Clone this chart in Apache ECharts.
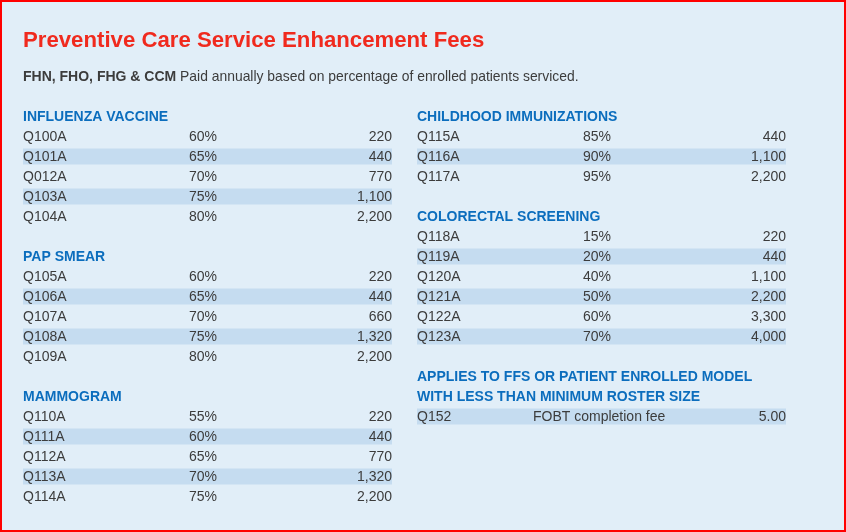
<!DOCTYPE html>
<html><head><meta charset="utf-8">
<script src="https://cdn.jsdelivr.net/npm/echarts@6/dist/echarts.min.js"></script>
<style>html,body{margin:0;padding:0;background:#e1eef8}#c{width:846px;height:532px}</style>
</head><body><div id="c"></div><script>
// ---- data ----
const titleText = 'Preventive Care Service Enhancement Fees';
const subtitleBold = 'FHN, FHO, FHG & CCM';
const subtitleRest = 'Paid annually based on percentage of enrolled patients serviced.';

const influenzaTitle = ['INFLUENZA VACCINE'];
const influenzaCodes = ['Q100A','Q101A','Q012A','Q103A','Q104A'];
const influenzaRates = ['60%','65%','70%','75%','80%'];
const influenzaFees = [220,440,770,1100,2200];

const papTitle = ['PAP SMEAR'];
const papCodes = ['Q105A','Q106A','Q107A','Q108A','Q109A'];
const papRates = ['60%','65%','70%','75%','80%'];
const papFees = [220,440,660,1320,2200];

const mammoTitle = ['MAMMOGRAM'];
const mammoCodes = ['Q110A','Q111A','Q112A','Q113A','Q114A'];
const mammoRates = ['55%','60%','65%','70%','75%'];
const mammoFees = [220,440,770,1320,2200];

const childTitle = ['CHILDHOOD IMMUNIZATIONS'];
const childCodes = ['Q115A','Q116A','Q117A'];
const childRates = ['85%','90%','95%'];
const childFees = [440,1100,2200];

const colorectalTitle = ['COLORECTAL SCREENING'];
const colorectalCodes = ['Q118A','Q119A','Q120A','Q121A','Q122A','Q123A'];
const colorectalRates = ['15%','20%','40%','50%','60%','70%'];
const colorectalFees = [220,440,1100,2200,3300,4000];

const ffsTitle = ['APPLIES TO FFS OR PATIENT ENROLLED MODEL','WITH LESS THAN MINIMUM ROSTER SIZE'];
const ffsCodes = ['Q152'];
const ffsDescs = ['FOBT completion fee'];
const ffsFees = ['5.00'];

// ---- layout / style ----
const FONT = "'Liberation Sans', Arial, Helvetica, sans-serif";
const BG = '#e1eef8', STRIPE = '#c5dcf0', HEAD = '#0b6dbd', TXT = '#3c3c3c', RED = '#f02a1e';
const colOffset = [23, 417];
const tableWidth = 369;
const NROWS = 20;

const records = [];
function addSection(col, startRow, titles, codes, mids, fees, midOffset, stripeParity) {
  let r = startRow;
  titles.forEach(t => records.push({col, row: r++, kind: 'header', text: t}));
  codes.forEach((c, i) => records.push({
    col, row: r++, kind: 'row', code: c, mid: mids[i],
    fee: typeof fees[i] === 'number' ? fees[i].toLocaleString('en-US') : fees[i],
    midOffset, stripe: i % 2 === stripeParity
  }));
}
addSection(0, 0, influenzaTitle, influenzaCodes, influenzaRates, influenzaFees, 166, 1);
addSection(0, 7, papTitle, papCodes, papRates, papFees, 166, 1);
addSection(0, 14, mammoTitle, mammoCodes, mammoRates, mammoFees, 166, 1);
addSection(1, 0, childTitle, childCodes, childRates, childFees, 166, 1);
addSection(1, 5, colorectalTitle, colorectalCodes, colorectalRates, colorectalFees, 166, 1);
addSection(1, 13, ffsTitle, ffsCodes, ffsDescs, ffsFees, 116, 0);

const rowCats = Array.from({length: NROWS}, (_, i) => 'r' + i);

function renderItem(params, api) {
  const rec = records[params.dataIndex];
  const x0 = colOffset[rec.col];
  const p = api.coord([x0, rec.row]);
  const pe = api.coord([x0 + tableWidth, rec.row]);
  const pm = api.coord([x0 + (rec.midOffset || 0), rec.row]);
  const rowH = api.size([0, 1])[1];
  const ty = p[1] + 1;
  const children = [];
  if (rec.kind === 'header') {
    children.push({type: 'text', x: p[0], y: ty, style: {
      text: rec.text, fill: HEAD, font: 'bold 14px ' + FONT, align: 'left', verticalAlign: 'middle'}});
  } else {
    if (rec.stripe) {
      children.push({type: 'rect', shape: {x: p[0], y: p[1] - rowH * 0.4, width: pe[0] - p[0], height: rowH * 0.8},
        style: {fill: STRIPE}});
    }
    const f = '14px ' + FONT;
    children.push({type: 'text', x: p[0], y: ty, style: {text: rec.code, fill: TXT, font: f, align: 'left', verticalAlign: 'middle'}});
    children.push({type: 'text', x: pm[0], y: ty, style: {text: rec.mid, fill: TXT, font: f, align: 'left', verticalAlign: 'middle'}});
    children.push({type: 'text', x: pe[0], y: ty, style: {text: rec.fee, fill: TXT, font: f, align: 'right', verticalAlign: 'middle'}});
  }
  return {type: 'group', children};
}

const chart = echarts.init(document.getElementById('c'), null, {renderer: 'canvas'});
chart.setOption({
  backgroundColor: BG,
  animation: false,
  title: [
    {text: titleText, left: 23, top: 28, padding: 0,
     textStyle: {color: RED, fontSize: 22.2, fontWeight: 'bold', fontFamily: FONT, lineHeight: 26}},
    {text: '{b|' + subtitleBold + '} ' + subtitleRest, left: 23, top: 68, padding: 0,
     textStyle: {color: TXT, fontSize: 13.9, fontWeight: 'normal', fontFamily: FONT, lineHeight: 18,
       rich: {b: {fontWeight: 'bold', fontSize: 14, fontFamily: FONT, color: TXT}}}}
  ],
  grid: {left: 0, right: 0, top: 106.5, height: 400, containLabel: false},
  xAxis: {type: 'value', min: 0, max: 846, show: false},
  yAxis: {type: 'category', data: rowCats, inverse: true, show: false},
  graphic: [{type: 'rect', shape: {x: 1, y: 1, width: 844, height: 530}, style: {fill: null, stroke: '#ff0000', lineWidth: 2}, z: 100}],
  series: [{
    type: 'custom', renderItem, encode: {x: 0, y: 1},
    data: records.map(r => [colOffset[r.col], r.row]),
    silent: true
  }]
});
</script></body></html>
